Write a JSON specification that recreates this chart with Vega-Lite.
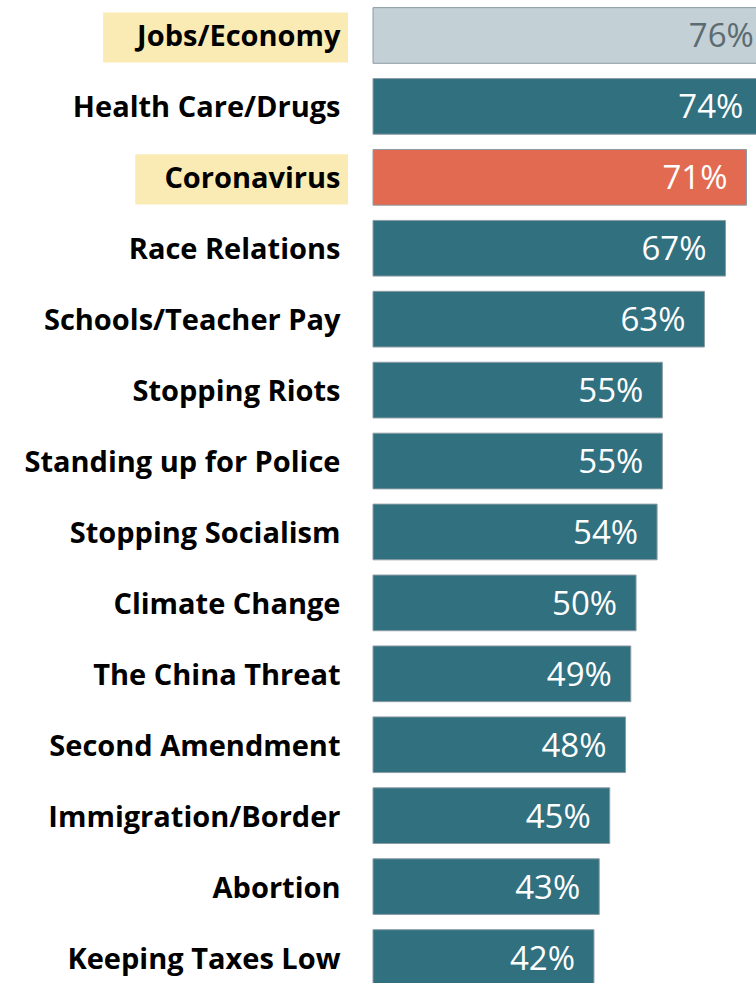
{
  "$schema": "https://vega.github.io/schema/vega-lite/v6.json",
  "width": 383,
  "height": 993,
  "autosize": {"type": "none"},
  "padding": {"left": 373, "top": 0, "right": 0, "bottom": 0},
  "background": "white",
  "config": {"view": {"stroke": null}},
  "datasets": {
    "main": [
      {"topic": "Jobs/Economy", "value": 0.76},
      {"topic": "Health Care/Drugs", "value": 0.74},
      {"topic": "Coronavirus", "value": 0.71},
      {"topic": "Race Relations", "value": 0.67},
      {"topic": "Schools/Teacher Pay", "value": 0.63},
      {"topic": "Stopping Riots", "value": 0.55},
      {"topic": "Standing up for Police", "value": 0.55},
      {"topic": "Stopping Socialism", "value": 0.54},
      {"topic": "Climate Change", "value": 0.50},
      {"topic": "The China Threat", "value": 0.49},
      {"topic": "Second Amendment", "value": 0.48},
      {"topic": "Immigration/Border", "value": 0.45},
      {"topic": "Abortion", "value": 0.43},
      {"topic": "Keeping Taxes Low", "value": 0.42}
    ]
  },
  "data": {"name": "main"},
  "encoding": {
    "y": {
      "field": "topic",
      "type": "nominal",
      "scale": {
        "domain": ["Jobs/Economy", "Health Care/Drugs", "Coronavirus", "Race Relations", "Schools/Teacher Pay", "Stopping Riots", "Standing up for Police", "Stopping Socialism", "Climate Change", "The China Threat", "Second Amendment", "Immigration/Border", "Abortion", "Keeping Taxes Low"],
        "paddingInner": 0.215,
        "paddingOuter": 0.1075
      },
      "axis": {
        "title": null,
        "domain": false,
        "ticks": false,
        "labelFont": "Open Sans",
        "labelFontWeight": "bold",
        "labelFontSize": 29,
        "labelColor": "#000000",
        "labelPadding": 33,
        "labelLimit": 400,
        "labelBaseline": "middle",
        "labelOffset": 2,
        "zindex": 1
      }
    }
  },
  "layer": [
    {
      "transform": [{"filter": "datum.topic === 'Jobs/Economy'"}],
      "mark": {"type": "bar", "color": "#FAEBB5", "height": {"band": 0.9}, "yOffset": 2},
      "encoding": {
        "x": {"datum": -0.513, "type": "quantitative", "axis": null},
        "x2": {"datum": -0.0475}
      }
    },
    {
      "transform": [{"filter": "datum.topic === 'Coronavirus'"}],
      "mark": {"type": "bar", "color": "#FAEBB5", "height": {"band": 0.9}, "yOffset": 2},
      "encoding": {
        "x": {"datum": -0.452, "type": "quantitative", "axis": null},
        "x2": {"datum": -0.0475}
      }
    },
    {
      "mark": {"type": "bar", "stroke": "#8C9CA4", "strokeWidth": 1},
      "encoding": {
        "x": {
          "field": "value",
          "type": "quantitative",
          "scale": {"domain": [0, 0.728], "nice": false, "zero": true},
          "axis": null
        },
        "color": {
          "field": "topic",
          "type": "nominal",
          "legend": null,
          "scale": {
            "domain": ["Jobs/Economy", "Health Care/Drugs", "Coronavirus", "Race Relations", "Schools/Teacher Pay", "Stopping Riots", "Standing up for Police", "Stopping Socialism", "Climate Change", "The China Threat", "Second Amendment", "Immigration/Border", "Abortion", "Keeping Taxes Low"],
            "range": ["#C3D0D5", "#31707F", "#E26A50", "#31707F", "#31707F", "#31707F", "#31707F", "#31707F", "#31707F", "#31707F", "#31707F", "#31707F", "#31707F", "#31707F"]
          }
        }
      }
    },
    {
      "mark": {
        "type": "text",
        "align": "right",
        "baseline": "middle",
        "dx": -19,
        "dy": 2,
        "font": "Open Sans",
        "fontSize": 33
      },
      "encoding": {
        "x": {"field": "value", "type": "quantitative", "axis": null},
        "text": {"field": "value", "type": "quantitative", "format": ".0%"},
        "color": {
          "condition": {"test": "datum.topic === 'Jobs/Economy'", "value": "#5B6B71"},
          "value": "#FFFFFF"
        }
      }
    }
  ]
}
